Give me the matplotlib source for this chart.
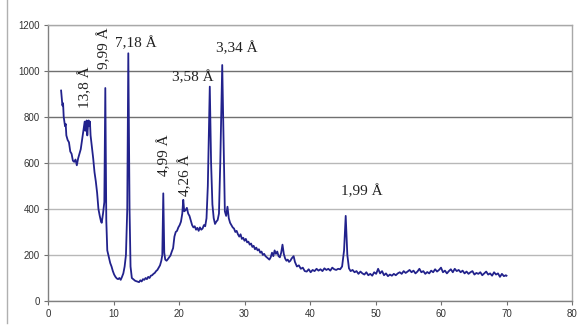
import matplotlib
matplotlib.use("Agg")
import matplotlib.pyplot as plt
from matplotlib.lines import Line2D

# ---- data ----
two_theta = [2.0, 2.1, 2.2, 2.3, 2.4, 2.6, 2.7, 2.8, 3.0, 3.2, 3.4, 3.6, 3.8, 4.0, 4.2, 4.4, 4.6, 4.8,
             5.0, 5.2, 5.4, 5.6, 5.7, 5.8, 5.9, 6.0, 6.1, 6.2, 6.3, 6.4, 6.5, 6.7, 6.9, 7.1, 7.3, 7.5,
             7.7, 7.9, 8.1, 8.2, 8.4, 8.6, 8.75, 8.9, 9.05, 9.3, 9.5, 9.7, 9.9, 10.1, 10.3, 10.5, 10.7,
             10.9, 11.1, 11.3, 11.5, 11.7, 11.9, 12.1, 12.26, 12.45, 12.6, 12.8, 13.0, 13.3, 13.6, 13.9,
             14.1, 14.3, 14.5, 14.7, 14.9, 15.1, 15.3, 15.5, 15.7, 15.9, 16.1, 16.3, 16.5, 16.7, 16.9,
             17.1, 17.3, 17.45, 17.6, 17.75, 17.9, 18.1, 18.3, 18.5, 18.7, 18.9, 19.1, 19.3, 19.5, 19.7,
             19.9, 20.1, 20.3, 20.5, 20.65, 20.8, 21.0, 21.2, 21.4, 21.6, 21.8, 22.0, 22.2, 22.4, 22.6,
             22.8, 23.0, 23.2, 23.4, 23.6, 23.8, 24.0, 24.2, 24.4, 24.7, 24.9, 25.1, 25.3, 25.5, 25.7,
             25.9, 26.1, 26.3, 26.6, 26.8, 27.0, 27.2, 27.4, 27.6, 27.8, 28.0, 28.2, 28.4, 28.6, 28.8,
             29.0, 29.2, 29.4, 29.6, 29.8, 30.0, 30.2, 30.4, 30.6, 30.8, 31.0, 31.2, 31.4, 31.6, 31.8,
             32.0, 32.2, 32.4, 32.6, 32.8, 33.0, 33.2, 33.4, 33.6, 33.8, 34.0, 34.2, 34.4, 34.6, 34.8,
             35.0, 35.2, 35.4, 35.6, 35.8, 36.0, 36.2, 36.4, 36.6, 36.8, 37.0, 37.2, 37.5, 37.7, 38.0,
             38.3, 38.6, 38.9, 39.2, 39.5, 39.8, 40.1, 40.4, 40.7, 41.0, 41.3, 41.6, 41.9, 42.2, 42.5,
             42.8, 43.1, 43.4, 43.7, 44.0, 44.3, 44.6, 44.9, 45.2, 45.45, 45.7, 45.95, 46.2, 46.5, 46.8,
             47.1, 47.4, 47.7, 48.0, 48.3, 48.6, 48.9, 49.2, 49.5, 49.8, 50.1, 50.4, 50.7, 51.0, 51.3,
             51.6, 51.9, 52.2, 52.5, 52.8, 53.1, 53.4, 53.7, 54.0, 54.3, 54.6, 54.9, 55.2, 55.5, 55.8,
             56.1, 56.4, 56.7, 57.0, 57.3, 57.6, 57.9, 58.2, 58.5, 58.8, 59.1, 59.4, 59.7, 60.0, 60.3,
             60.6, 60.9, 61.2, 61.5, 61.8, 62.1, 62.4, 62.7, 63.0, 63.3, 63.6, 63.9, 64.2, 64.5, 64.8,
             65.1, 65.4, 65.7, 66.0, 66.3, 66.6, 66.9, 67.2, 67.5, 67.8, 68.1, 68.4, 68.7, 69.0, 69.3,
             69.6, 69.9, 70.0]
intensity = [915, 880, 850, 860, 800, 760, 770, 720, 700, 690, 650, 640, 610, 605, 615, 590, 620, 640,
             660, 700, 740, 780, 740, 760, 785, 720, 760, 785, 760, 780, 720, 670, 620, 560, 520, 470,
             400, 370, 345, 340, 380, 430, 926, 350, 220, 190, 165, 150, 130, 115, 105, 98, 95,
             100, 92, 105, 120, 150, 200, 400, 1077, 400, 150, 100, 95, 88, 85, 82,
             90, 85, 95, 92, 100, 95, 105, 100, 110, 112, 118, 122, 130, 135, 145,
             155, 175, 200, 468, 210, 180, 175, 182, 190, 198, 215, 230, 280, 300, 305,
             320, 330, 345, 380, 440, 390, 395, 405, 380, 370, 350, 330, 320, 325, 310,
             318, 305, 320, 310, 315, 330, 325, 360, 500, 932, 600, 420, 360, 335, 345,
             352, 380, 600, 1026, 700, 390, 370, 410, 360, 340, 330, 320, 315, 300, 305,
             290, 280, 290, 270, 275, 262, 270, 255, 258, 245, 250, 235, 240, 225, 232,
             220, 225, 210, 215, 200, 205, 195, 190, 185, 180, 190, 210, 195, 220, 205,
             215, 195, 190, 210, 245, 205, 185, 175, 180, 170, 175, 185, 195, 170, 150,
             155, 140, 145, 130, 128, 138, 125, 135, 130, 140, 132, 138, 130, 142, 135,
             140, 132, 145, 138, 135, 140, 138, 150, 220, 370, 200, 142, 130, 135, 125,
             130, 118, 128, 120, 115, 125, 112, 118, 110, 125, 118, 140, 120, 130, 112,
             120, 108, 115, 110, 118, 112, 120, 125, 118, 130, 122, 128, 135, 125, 132,
             120, 128, 140, 125, 130, 118, 126, 120, 132, 125, 138, 128, 135, 145, 125,
             132, 120, 130, 138, 125, 140, 130, 135, 125, 132, 120, 128, 118, 125, 130,
             115, 122, 118, 125, 112, 120, 128, 115, 120, 110, 125, 115, 120, 105, 118,
             108, 112, 110]

peak_labels = ["13,8 Å", "9,99 Å", "7,18 Å", "4,99 Å", "4,26 Å", "3,58 Å", "3,34 Å", "1,99 Å"]
label_x = [5.65, 8.55, 13.4, 17.7, 20.9, 22.1, 28.9, 47.9]
label_y = [930, 1100, 1122, 635, 548, 974, 1100, 478]
label_rot = [90, 90, 0, 90, 90, 0, 0, 0]

x_ticks = [0, 10, 20, 30, 40, 50, 60, 70, 80]
y_ticks = [0, 200, 400, 600, 800, 1000, 1200]

# ---- figure ----
W, H = 579, 329
fig = plt.figure(figsize=(W / 100, H / 100), dpi=100)
ax = fig.add_axes([48 / W, 28 / H, 524 / W, 276 / H])

ax.plot(two_theta, intensity, color="#22228c", lw=1.3, zorder=3)

ax.set_xlim(0, 80)
ax.set_ylim(0, 1200)
ax.set_xticks(x_ticks)
ax.set_yticks(y_ticks)
ax.tick_params(axis="both", labelsize=7, length=3, width=0.8, color="#707070",
               labelcolor="#333333", direction="out", pad=3)
for lab in ax.get_xticklabels() + ax.get_yticklabels():
    lab.set_fontfamily("Liberation Sans")

ax.yaxis.grid(True, zorder=0)
for val, gl in zip(y_ticks, ax.get_ygridlines()):
    if val in (800, 1000):
        gl.set_color("#707070")
    else:
        gl.set_color("#b8b8b8")
    gl.set_linewidth(1.0)
ax.set_axisbelow(True)

for side in ("left", "bottom"):
    ax.spines[side].set_color("#808080")
    ax.spines[side].set_linewidth(1.0)
for side in ("top", "right"):
    ax.spines[side].set_color("#a8a8a8")
    ax.spines[side].set_linewidth(1.0)

for txt, lx, ly, rot in zip(peak_labels, label_x, label_y, label_rot):
    ax.text(lx, ly, txt, rotation=rot, ha="center", va="center",
            fontsize=11, family="Liberation Serif", color="#222222", zorder=4)

# chart-area border remnant on the left
fig.add_artist(Line2D([7 / W, 7 / W], [6 / H, 1.0], transform=fig.transFigure,
                      color="#b0b0b0", lw=1.0))

fig.savefig("out.png", dpi=100, facecolor="white")
